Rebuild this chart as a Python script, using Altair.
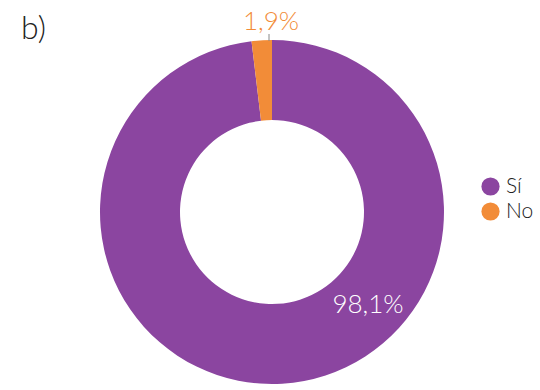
import altair as alt
import pandas as pd

categories = ["Sí", "No"]
values = [98.1, 1.9]
colors = ["#8b45a0", "#f28c38"]
label_texts = ["98,1%", "1,9%"]
label_colors = ["#ffffff", "#f28c38"]

df = pd.DataFrame({"cat": categories, "val": values, "order": [0, 1]})

CX, CY = 272, 212

arc = alt.Chart(df).mark_arc(outerRadius=172, innerRadius=92, stroke=None).encode(
    theta=alt.Theta("val:Q", stack=True),
    order=alt.Order("order:Q"),
    color=alt.Color(
        "cat:N",
        scale=alt.Scale(domain=categories, range=colors),
        sort=categories,
        legend=alt.Legend(
            title=None, orient="none", legendX=480, legendY=176,
            symbolType="circle", symbolSize=330, symbolStrokeWidth=0,
            labelFont="Lato", labelFontSize=21, labelFontWeight=300,
            labelColor="#222222", rowPadding=3, labelOffset=5,
        ),
    ),
    x=alt.value(CX),
    y=alt.value(CY),
)

lab_big = alt.Chart(pd.DataFrame({"t": [label_texts[0]]})).mark_text(
    font="Lato", fontSize=26, fontWeight=300, color=label_colors[0],
    align="center", baseline="middle"
).encode(text="t:N", x=alt.value(368), y=alt.value(305))

lab_small = alt.Chart(pd.DataFrame({"t": [label_texts[1]]})).mark_text(
    font="Lato", fontSize=26, fontWeight=300, color=label_colors[1],
    align="center", baseline="middle"
).encode(text="t:N", x=alt.value(271), y=alt.value(22))

tick = alt.Chart(pd.DataFrame({"a": [0]})).mark_rule(color="#888888", strokeWidth=1).encode(
    x=alt.value(269), y=alt.value(34), y2=alt.value(41)
)

title = alt.Chart(pd.DataFrame({"t": ["b)"]})).mark_text(
    font="Lato", fontSize=32, fontWeight=300, color="#222222",
    align="left", baseline="middle"
).encode(text="t:N", x=alt.value(21), y=alt.value(29))

chart = alt.layer(arc, tick, lab_big, lab_small, title).properties(
    width=540, height=390, padding=0, autosize=alt.AutoSizeParams(type="none"),
    background="white",
).configure_view(stroke=None)

chart.save("out.html", embed_options={"renderer": "svg", "actions": False})
